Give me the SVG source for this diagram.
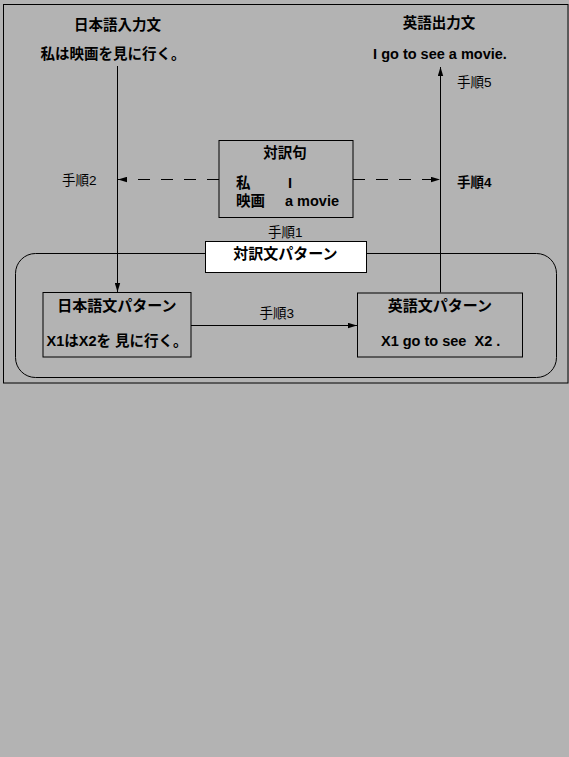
<svg xmlns="http://www.w3.org/2000/svg" width="569" height="757" viewBox="0 0 569 757">
<style>
  .b { font-family: "Liberation Sans", "Noto Sans CJK JP", sans-serif; font-weight: bold; font-size: 14.5px; fill: #000; }
  .t { font-size: 15px; }
  .r { font-family: "Liberation Sans", "Noto Sans CJK JP", sans-serif; font-size: 13.5px; fill: #000; }
  .box { fill: none; stroke: #000; stroke-width: 1; }
  .ln { stroke: #000; stroke-width: 1; fill: none; }
  .dash { stroke: #000; stroke-width: 1; fill: none; stroke-dasharray: 12 11; }
</style>
<defs>
  <marker id="ah" viewBox="0 0 10 6" refX="10" refY="3" markerWidth="9" markerHeight="6" markerUnits="userSpaceOnUse" orient="auto">
    <path d="M0,0 L10,3 L0,6 Z" fill="#000"/>
  </marker>
</defs>
<rect x="0" y="0" width="569" height="757" fill="#b3b3b3"/>
<rect id="frame" x="3.5" y="4.5" width="564.5" height="378.5" class="box"/>

<g id="pattern-group">
  <rect x="15.5" y="253.5" width="541" height="124" rx="20" ry="20" class="box"/>
</g>

<g id="connectors">
  <line x1="117.5" y1="66" x2="117.5" y2="292" class="ln" marker-end="url(#ah)"/>
  <line x1="191" y1="325.5" x2="357" y2="325.5" class="ln" marker-end="url(#ah)"/>
  <line x1="440.5" y1="292.5" x2="440.5" y2="67" class="ln" marker-end="url(#ah)"/>
  <line x1="219" y1="179.5" x2="118" y2="179.5" class="dash" marker-end="url(#ah)"/>
  <line x1="353" y1="179.5" x2="440" y2="179.5" class="dash" marker-end="url(#ah)"/>
  <text class="r" x="62" y="184.5">手順2</text>
  <text class="r" x="457" y="186.5" font-weight="bold">手順4</text>
  <text class="r" x="457" y="87">手順5</text>
  <text class="r" x="268" y="236.5">手順1</text>
  <text class="r" x="259.5" y="317.5">手順3</text>
</g>

<g id="jp-input">
  <text class="b" x="117.5" y="30" text-anchor="middle">日本語入力文</text>
  <text class="b" x="113" y="58.5" text-anchor="middle">私は映画を見に行く。</text>
</g>

<g id="en-output">
  <text class="b" x="439" y="28" text-anchor="middle">英語出力文</text>
  <text class="b" x="440" y="59" text-anchor="middle">I go to see a movie.</text>
</g>

<g id="phrase-pair">
  <rect x="219" y="140.5" width="134" height="77" class="box"/>
  <text class="b" x="285" y="158" text-anchor="middle">対訳句</text>
  <text class="b" x="236" y="188">私</text>
  <text class="b" x="288" y="188">I</text>
  <text class="b" x="236" y="205.5">映画</text>
  <text class="b" x="285" y="205.5">a movie</text>
</g>

<g id="pattern-label">
  <rect x="205.5" y="241.5" width="161" height="31" fill="#fff" stroke="#000" stroke-width="1"/>
  <text class="b t" x="285.5" y="258.5" text-anchor="middle">対訳文パターン</text>
</g>

<g id="jp-pattern">
  <rect x="43" y="292.5" width="148" height="64.5" class="box"/>
  <text class="b t" x="117" y="311" text-anchor="middle">日本語文パターン</text>
  <text class="b" x="46.5" y="346" xml:space="preserve">X1はX2を 見に行く。</text>
</g>

<g id="en-pattern">
  <rect x="357.5" y="293" width="165" height="64" class="box"/>
  <text class="b t" x="440" y="311" text-anchor="middle">英語文パターン</text>
  <text class="b" x="381" y="346" xml:space="preserve">X1 go to see  X2 .</text>
</g>
</svg>
